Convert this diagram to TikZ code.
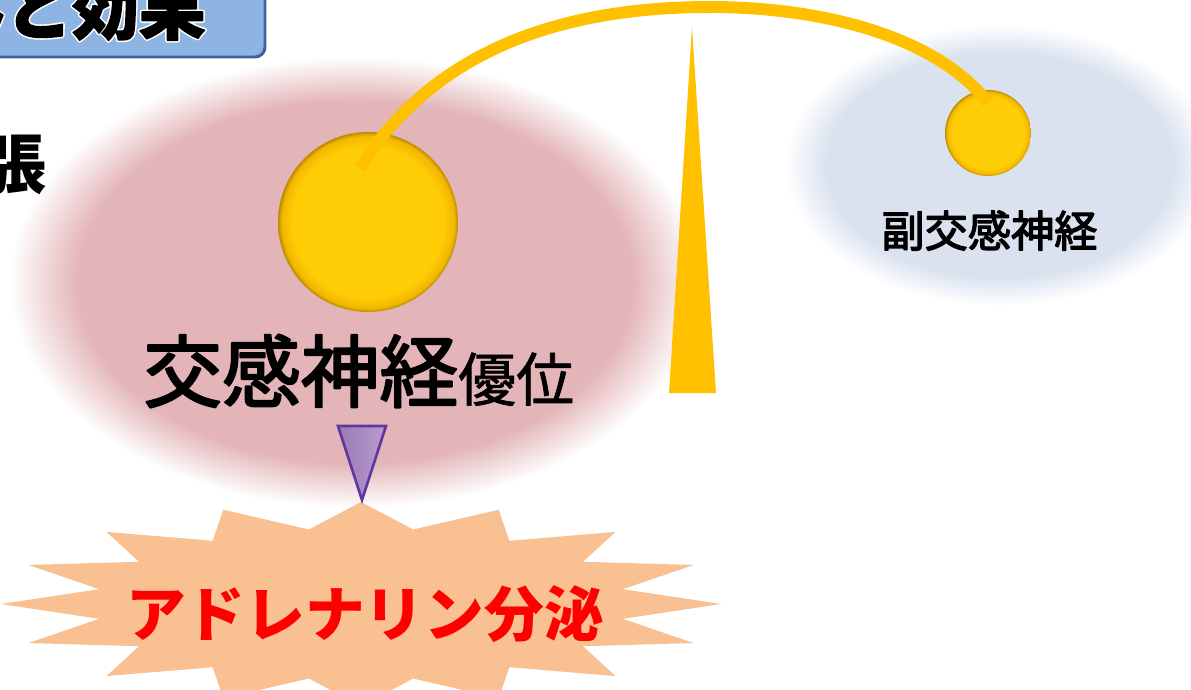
\documentclass[tikz,border=0pt]{standalone}
\usepackage{fontspec}
\newfontfamily\cjk{Noto Sans CJK JP}
\usetikzlibrary{fadings}
\definecolor{pinkblur}{HTML}{E3B5B8}
\definecolor{blueblur}{HTML}{DAE2EF}
\definecolor{titlefill}{HTML}{8EB4E3}
\definecolor{titleedge}{HTML}{3E6394}
\definecolor{gold}{HTML}{FFC000}
\definecolor{ballA}{HTML}{FFCD05}
\definecolor{ballB}{HTML}{F2B600}
\definecolor{ballC}{HTML}{B88A00}
\definecolor{starfill}{HTML}{F9C192}
\definecolor{purpL}{HTML}{9A7AB4}
\definecolor{purpR}{HTML}{B89CCE}
\definecolor{purpedge}{HTML}{6236A0}
\definecolor{alarm}{HTML}{FF0000}
\pgfdeclareradialshading{ballshade}{\pgfpoint{0bp}{0bp}}{color(0bp)=(ballA); color(21bp)=(ballA); color(24bp)=(ballB); color(25bp)=(ballC); color(50bp)=(ballC)}
\newcommand{\whitehalo}[1]{\special{pdf:literal direct 1 Tr 1 1 1 RG 2.6 w 1 j}#1\special{pdf:literal direct 0 Tr}}
\newcommand{\heavytext}[2]{\special{pdf:literal direct 2 Tr 0 0 0 RG #1 w 1 j}#2\special{pdf:literal direct 0 Tr}}
\tikzset{
  ball/.style={circle, inner sep=0pt, shading=ballshade},
  nerve/.style={draw=gold, line width=6.8pt},
  label/.style={inner sep=0pt, font=\cjk, text=black},
  titlefont/.style={label, anchor=base east, font=\cjk\bfseries\fontsize{38}{40}\selectfont},
}
\begin{document}
\begin{tikzpicture}[x=0.02cm, y=-0.02cm]
\useasboundingbox (0,0) rectangle (1191,690);
% blurred backgrounds
\fill[pinkblur, path fading=circle with fuzzy edge 20 percent] (355,282) ellipse (345 and 225);
\fill[blueblur, path fading=circle with fuzzy edge 20 percent] (1000,165) ellipse (215 and 140);
% title box
\draw[titleedge, fill=titlefill, line width=1.7pt, rounded corners=0.2cm] (-40,-40) rectangle (265,57);
\node[titlefont] (titlehalo) at (206,34) {\whitehalo{みと効果}};
\node[titlefont] (title) at (206,34) {\heavytext{0.8}{みと効果}};
\node[label, anchor=base east, font=\cjk\bfseries\fontsize{37}{40}\selectfont] (tension) at (47,188) {張};
% gauge needle
\fill[gold] (692,27) -- (716,393) -- (669,393) -- cycle;
% balls
\node[ball, minimum size=3.6cm] (bigball) at (368,222) {};
\node[ball, minimum size=1.72cm] (smallball) at (988,133) {};
\coordinate (arcA) at (360,168);
\coordinate (arcTop) at (710,7);
\coordinate (arcB) at (988,103);
\draw[nerve] (arcA) .. controls (440,40) and (580,7) .. (arcTop) .. controls (830,7) and (940,40) .. (arcB);
% labels
\node[label, anchor=base west] (sym) at (143,401) {\heavytext{1.2}{\fontsize{44.8}{50}\selectfont 交感神経}\heavytext{0.4}{\fontsize{33}{40}\selectfont 優位}};
\node[label, anchor=base west, font=\cjk\fontsize{24.6}{28}\selectfont] (para) at (881,247) {\heavytext{0.7}{副交感神経}};
% starburst
\fill[starfill] plot[samples at={0,...,31}, variable=\k] ({361+ifthenelse(mod(\k,2)==0,360,267)*cos(\k*11.25)}, {604-ifthenelse(mod(\k,2)==0,102,76)*sin(\k*11.25)}) -- cycle;
\node[label, anchor=base, text=alarm, font=\cjk\bfseries\fontsize{34}{40}\selectfont] (adr) at (365,636) {アドレナリン分泌};
% arrow triangle
\draw[purpedge, line width=1.5pt, left color=purpL, right color=purpR, line join=miter] (338,426) -- (386,426) -- (362,500) -- cycle;
\end{tikzpicture}
\end{document}
